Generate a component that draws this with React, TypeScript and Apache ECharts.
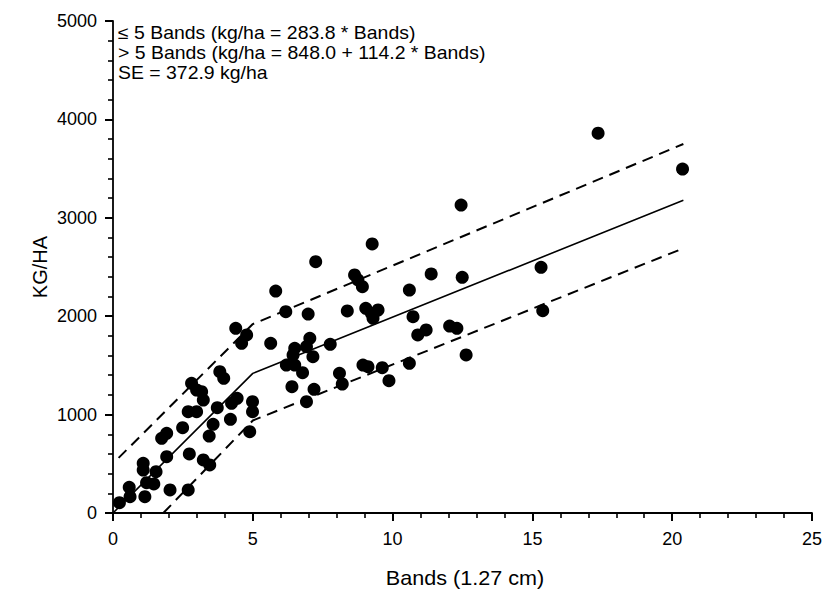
import React, { useEffect, useRef } from "react";
import * as echarts from "echarts";

// Observed samples: bands (1.27 cm) and yield (kg/ha)
const bandsX = [
  0.23, 0.58, 0.61, 1.08, 1.08, 1.54, 1.2, 1.46, 1.14, 2.04, 2.69, 1.92, 1.74, 1.92, 2.49, 2.73,
  2.69, 2.99, 2.81, 2.99, 3.17, 3.23, 3.23, 3.46, 3.44, 3.58, 3.73, 3.82, 3.96, 4.2, 4.24, 4.44,
  4.39, 4.78, 4.6, 4.89, 4.99, 4.99,
  9.27, 7.25, 8.64, 8.76, 8.92, 5.82, 10.6, 6.18, 6.98, 8.38, 9.04, 9.24, 9.48, 9.3, 10.73, 11.2,
  10.9, 5.64, 7.77, 7.04, 6.5, 6.44, 6.92, 7.15, 6.2, 6.5, 6.78, 6.4, 7.19, 6.92, 8.1, 8.2, 8.94,
  9.12, 9.63, 9.87, 10.6,
  12.45, 15.31, 11.38, 12.49, 12.04, 12.3, 15.37, 12.63, 17.35, 20.37,
];
const kgY = [
  105, 261, 166, 505, 437, 420, 308, 295, 166, 234, 234, 572, 759, 810, 867, 600,
  1030, 1030, 1318, 1250, 1233, 1148, 539, 488, 782, 901, 1070, 1436, 1369, 952, 1115, 1165,
  1877, 1809, 1724, 826, 1131, 1030,
  2734, 2554, 2419, 2368, 2300, 2256, 2266, 2046, 2022, 2053, 2080, 2029, 2063, 1979, 1995, 1860,
  1809, 1724, 1714, 1775, 1674, 1606, 1690, 1588, 1504, 1504, 1426, 1284, 1257, 1131, 1420, 1311, 1504,
  1487, 1477, 1345, 1521,
  3130, 2497, 2429, 2395, 1900, 1877, 2056, 1606, 3860, 3495,
];

// Regression line and dashed bounds (vertices)
const fitX = [0, 5, 20.4];
const fitY = [0, 1419, 3178];
const upperX = [0.2, 5, 20.4];
const upperY = [560, 1920, 3750];
const lowerX = [1.8, 5, 20.4];
const lowerY = [0, 940, 2690];

const equationLines = [
  "≤ 5 Bands (kg/ha = 283.8 * Bands)",
  "> 5 Bands (kg/ha = 848.0 + 114.2 * Bands)",
  "SE = 372.9 kg/ha",
];
const xTitle = "Bands (1.27 cm)";
const yTitle = "KG/HA";

const FONT = "'Liberation Sans', Arial, sans-serif";

const zip = (xs: number[], ys: number[]) => xs.map((x, i) => [x, ys[i]]);

export default function App() {
  const ref = useRef<HTMLDivElement>(null);
  useEffect(() => {
    if (!ref.current) return;
    const chart = echarts.init(ref.current, undefined, { renderer: "svg" });
    const axisCommon = {
      type: "value" as const,
      axisLine: { show: true, lineStyle: { color: "#000", width: 1.8 } },
      axisTick: { show: true, length: 8, lineStyle: { color: "#000", width: 2 } },
      minorTick: { show: true, splitNumber: 5, length: 5, lineStyle: { color: "#000", width: 1.6 } },
      splitLine: { show: false },
    };
    const labelStyle = {
      color: "#000",
      fontSize: 18,
      fontFamily: FONT,
      formatter: (v: number) => String(v),
    };
    chart.setOption({
      animation: false,
      backgroundColor: "#fff",
      grid: { left: 113, right: 12, top: 21, bottom: 78, containLabel: false },
      xAxis: {
        ...axisCommon,
        min: 0,
        max: 25,
        interval: 5,
        axisLabel: { ...labelStyle, margin: 17 },
      },
      yAxis: {
        ...axisCommon,
        min: 0,
        max: 5000,
        interval: 1000,
        axisLabel: { ...labelStyle, margin: 16 },
      },
      graphic: [
        ...equationLines.map((t, i) => ({
          type: "text",
          x: 118,
          y: 33 + i * 20,
          scaleX: 1.08,
          style: {
            text: t,
            fill: "#000",
            font: `18px ${FONT}`,
            align: "left",
            verticalAlign: "middle",
          },
        })),
        {
          type: "text",
          x: 465,
          y: 578,
          scaleX: 1.08,
          style: {
            text: xTitle,
            fill: "#000",
            font: `20px ${FONT}`,
            align: "center",
            verticalAlign: "middle",
          },
        },
        {
          type: "text",
          x: 40,
          y: 267,
          rotation: Math.PI / 2,
          style: {
            text: yTitle,
            fill: "#000",
            font: `20px ${FONT}`,
            align: "center",
            verticalAlign: "middle",
          },
        },
      ],
      series: [
        {
          type: "line",
          data: zip(fitX, fitY),
          symbol: "none",
          lineStyle: { color: "#000", width: 1.6, type: "solid" },
          z: 2,
        },
        {
          type: "line",
          data: zip(upperX, upperY),
          symbol: "none",
          lineStyle: { color: "#000", width: 2, type: [11, 7] },
          z: 2,
        },
        {
          type: "line",
          data: zip(lowerX, lowerY),
          symbol: "none",
          lineStyle: { color: "#000", width: 2, type: [11, 7] },
          z: 2,
        },
        {
          type: "scatter",
          data: zip(bandsX, kgY),
          symbol: "circle",
          symbolSize: 13,
          itemStyle: { color: "#000", opacity: 1 },
          z: 3,
        },
      ],
    });
    return () => chart.dispose();
  }, []);
  return (
    <div
      ref={ref}
      style={{ position: "fixed", left: 0, top: 0, width: 825, height: 591, background: "#fff" }}
    />
  );
}
